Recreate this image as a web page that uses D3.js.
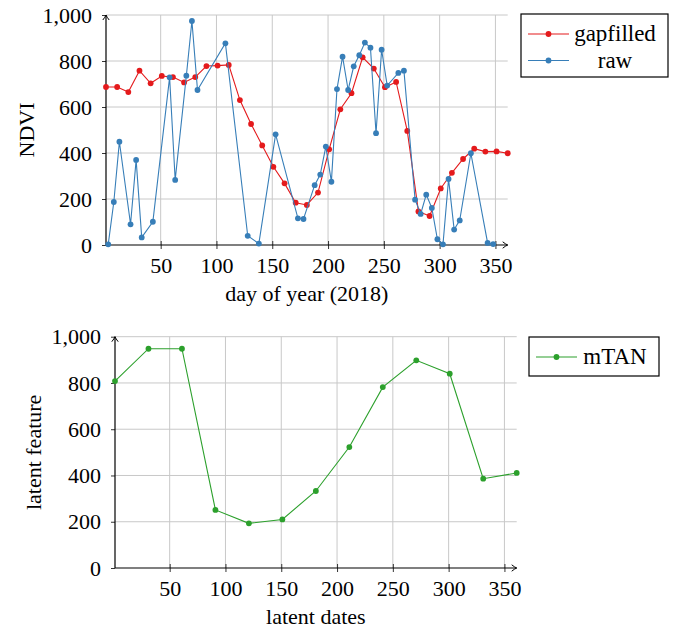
<!DOCTYPE html>
<html>
<head>
<meta charset="utf-8">
<script src="https://cdn.jsdelivr.net/npm/d3@7/dist/d3.min.js"></script>
<style>
  body { margin: 0; background: #fff; }
  svg text { font-family: "Liberation Serif", "DejaVu Serif", serif; fill: #000; }
</style>
</head>
<body>
<div id="chart"></div>
<script>
// top panel: NDVI over the year
const gapfilledDays = [1, 11, 21, 31, 41, 51, 61, 71, 81, 91, 101, 111, 121, 131, 141, 151, 161, 171, 181,
  191, 201, 211, 221, 231, 241, 251, 261, 271, 281, 291, 301, 311, 321, 331, 341, 351, 361];
const gapfilledValues = [687, 687, 665, 758, 703, 735, 730, 707, 730, 778, 780, 783, 630, 526, 433, 340, 268, 184, 174,
  228, 416, 590, 660, 816, 767, 686, 709, 496, 146, 126, 246, 314, 374, 419, 406, 407, 399];

const rawDays = [3, 8, 13, 23, 28, 33, 43, 58, 63, 73, 78, 83, 108, 128, 138, 153, 173, 178, 188, 193, 198, 203,
  208, 213, 218, 223, 228, 233, 238, 243, 248, 253, 263, 268, 278, 283, 288, 293, 298, 303, 308, 313, 318, 328, 343, 348];
const rawValues = [3, 187, 449, 90, 370, 33, 101, 729, 283, 736, 974, 674, 877, 40, 6, 481, 116, 113, 260, 306, 428, 275,
  678, 819, 674, 777, 825, 880, 858, 486, 849, 693, 748, 758, 197, 135, 219, 161, 25, 3, 287, 67, 107, 399, 9, 4];

// bottom panel: mTAN latent feature
const latentDates = [1, 31, 61, 91, 121, 151, 181, 211, 241, 271, 301, 331, 361];
const latentValues = [808, 948, 948, 251, 193, 210, 333, 523, 782, 898, 840, 386, 411];

const xTicks = [50, 100, 150, 200, 250, 300, 350];
const yTicks = [0, 200, 400, 600, 800, 1000];

const RED = "#e41a1c", BLUE = "#377eb8", GREEN = "#2ca02c";
const SERIF = "'Liberation Serif', 'DejaVu Serif', serif";

function add_svg(wrapper)
{
  let svg = d3.select(wrapper).append("svg")
    .attr("width", 681).attr("height", 631);

  let defs = svg.append("defs");
  defs.append("marker")
    .attr("id", "arrow")
    .attr("viewBox", "-6 -4 8 8")
    .attr("markerWidth", 8).attr("markerHeight", 8)
    .attr("markerUnits", "userSpaceOnUse")
    .attr("orient", "auto")
    .append("path")
    .attr("d", "M-5,-3.2 Q-2,-0.8 0,0 Q-2,0.8 -5,3.2")
    .attr("fill", "none")
    .attr("stroke", "#000")
    .attr("stroke-width", 1);
  return svg;
}

function draw_panel(svg, p)
{
  let x = d3.scaleLinear().domain([1, 361]).range([p.left, p.right]);
  let y = d3.scaleLinear().domain([0, 1000]).range([p.bottom, p.top]);
  let g = svg.append("g");

  // grid
  g.append("g").selectAll("line.hgrid")
    .data(yTicks.filter(d => d > 0))
    .enter().append("line")
    .attr("x1", x(1)).attr("x2", x(361))
    .attr("y1", d => y(d)).attr("y2", d => y(d))
    .attr("stroke", "#c8c8c8").attr("stroke-width", 1);

  g.append("g").selectAll("line.vgrid")
    .data(xTicks)
    .enter().append("line")
    .attr("x1", d => x(d)).attr("x2", d => x(d))
    .attr("y1", y(0)).attr("y2", y(1000))
    .attr("stroke", "#c8c8c8").attr("stroke-width", 1);

  // axes
  let xAxis = d3.axisBottom(x).tickValues(xTicks).tickSize(4).tickPadding(8);
  let gx = g.append("g")
    .attr("transform", "translate(0," + y(0) + ")")
    .call(xAxis);
  gx.attr("font-family", null).attr("font-size", null);
  gx.select(".domain").remove();
  gx.selectAll(".tick line").attr("y1", -4).attr("stroke", "#333");
  gx.selectAll(".tick text").style("font-family", SERIF).style("font-size", "22px").attr("fill", "#000");

  let yAxis = d3.axisLeft(y).tickValues(yTicks).tickFormat(d3.format(",")).tickSize(4).tickPadding(10);
  let gy = g.append("g")
    .attr("transform", "translate(" + x(1) + ",0)")
    .call(yAxis);
  gy.attr("font-family", null).attr("font-size", null);
  gy.select(".domain").remove();
  gy.selectAll(".tick line").attr("stroke", "#333");
  gy.selectAll(".tick text").style("font-family", SERIF).style("font-size", "22px").attr("fill", "#000");

  g.append("line")
    .attr("x1", x(1)).attr("x2", x(361))
    .attr("y1", y(0)).attr("y2", y(0))
    .attr("stroke", "#000").attr("stroke-width", 1.2)
    .attr("marker-end", "url(#arrow)");
  g.append("line")
    .attr("x1", x(1)).attr("x2", x(1))
    .attr("y1", y(0)).attr("y2", y(1000))
    .attr("stroke", "#000").attr("stroke-width", 1.2)
    .attr("marker-end", "url(#arrow)");

  // series
  let line = d3.line()
    .x(d => x(d[0]))
    .y(d => y(d[1]));

  p.series.forEach(function (s) {
    let points = s.days.map((d, i) => [d, s.values[i]]);
    g.append("path")
      .attr("d", line(points))
      .attr("fill", "none")
      .attr("stroke", s.color)
      .attr("stroke-width", 1.1);
    g.append("g").selectAll("circle")
      .data(points)
      .enter().append("circle")
      .attr("cx", d => x(d[0]))
      .attr("cy", d => y(d[1]))
      .attr("r", 2.9)
      .attr("fill", s.color);
  });

  // labels
  g.append("text")
    .attr("x", (p.left + p.right) / 2)
    .attr("y", p.xLabelY)
    .attr("text-anchor", "middle")
    .style("font-size", "22px")
    .text(p.xLabel);
  g.append("text")
    .attr("transform", "translate(" + p.yLabelX + "," + (p.top + p.bottom) / 2 + ") rotate(-90)")
    .attr("text-anchor", "middle")
    .style("font-size", "22px")
    .text(p.yLabel);

  // legend
  let lg = g.append("g");
  lg.append("rect")
    .attr("x", p.legend.x).attr("y", p.legend.y)
    .attr("width", p.legend.w).attr("height", p.legend.h)
    .attr("fill", "#fff").attr("stroke", "#000").attr("stroke-width", 1.2);
  p.series.forEach(function (s, i) {
    let ly = p.legend.y + p.legend.firstRow + i * p.legend.rowGap;
    lg.append("line")
      .attr("x1", p.legend.x + 7).attr("x2", p.legend.x + 48)
      .attr("y1", ly).attr("y2", ly)
      .attr("stroke", s.color).attr("stroke-width", 1.1);
    lg.append("circle")
      .attr("cx", p.legend.x + 27.5).attr("cy", ly).attr("r", 2.9)
      .attr("fill", s.color);
    lg.append("text")
      .attr("x", p.legend.textX)
      .attr("y", ly + 7)
      .attr("text-anchor", "middle")
      .style("font-size", "23px")
      .text(s.name);
  });
}

let svg = add_svg("#chart");

draw_panel(svg, {
  left: 106, right: 507.7, top: 15, bottom: 245,
  xLabel: "day of year (2018)", xLabelY: 301,
  yLabel: "NDVI", yLabelX: 34,
  series: [
    { name: "gapfilled", days: gapfilledDays, values: gapfilledValues, color: RED },
    { name: "raw", days: rawDays, values: rawValues, color: BLUE }
  ],
  legend: { x: 521, y: 14, w: 147, h: 63, firstRow: 20, rowGap: 26.5, textX: 615 }
});

draw_panel(svg, {
  left: 115, right: 516.7, top: 336.7, bottom: 568,
  xLabel: "latent dates", xLabelY: 624,
  yLabel: "latent feature", yLabelX: 41,
  series: [
    { name: "mTAN", days: latentDates, values: latentValues, color: GREEN }
  ],
  legend: { x: 529, y: 337, w: 130, h: 39, firstRow: 20, rowGap: 0, textX: 615 }
});
</script>
</body>
</html>
